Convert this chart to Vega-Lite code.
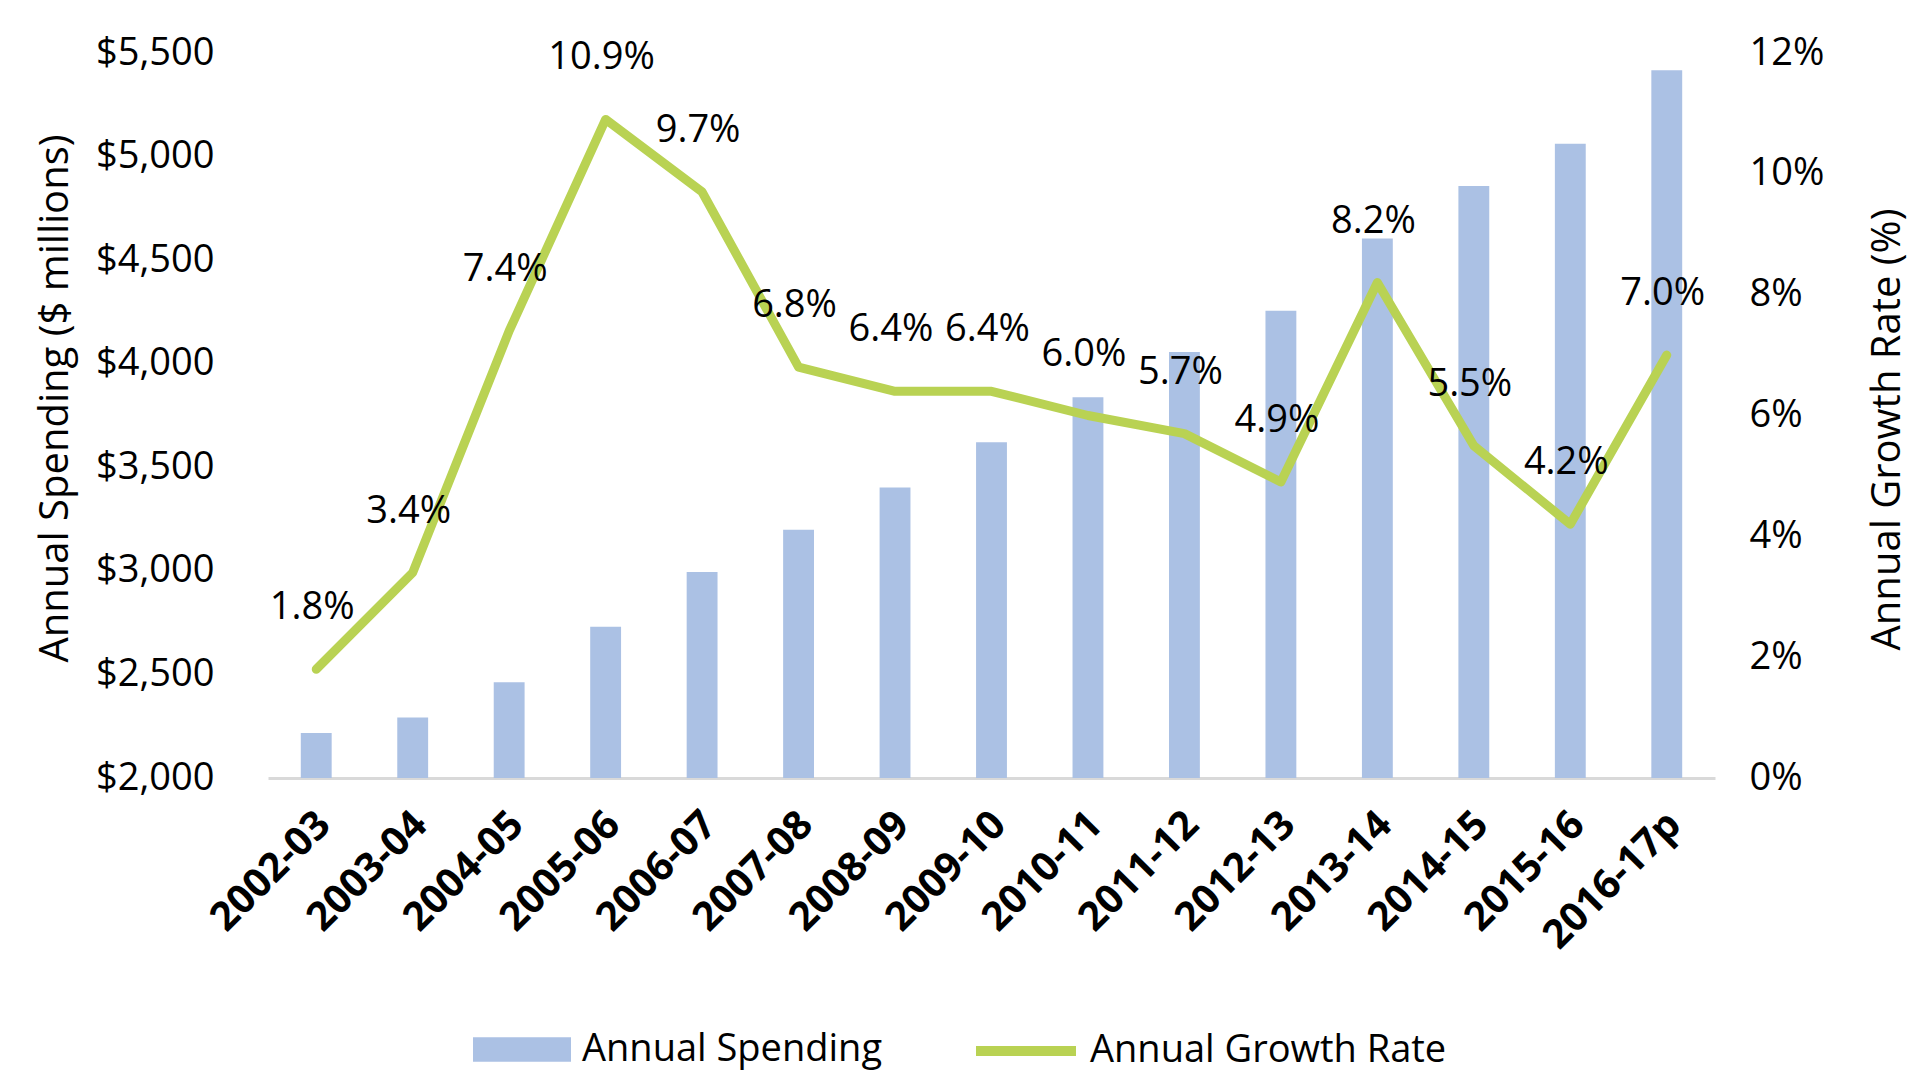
{
  "$schema": "https://vega.github.io/schema/vega-lite/v6.json",
  "autosize": "none",
  "width": 1447,
  "height": 725,
  "padding": {"left": 268, "top": 53, "right": 217, "bottom": 306},
  "background": "white",
  "config": {
    "view": {"stroke": null},
    "font": "Open Sans",
    "axis": {"grid": false, "labelColor": "black", "titleColor": "black", "titleFontWeight": "normal"},
    "legend": {"labelColor": "black", "labelFontSize": 38, "labelLimit": 0, "padding": 0}
  },
  "data": {
    "values": [
      {"year": "2002-03", "spending": 2217, "growth": 0.018},
      {"year": "2003-04", "spending": 2292, "growth": 0.034},
      {"year": "2004-05", "spending": 2462, "growth": 0.074},
      {"year": "2005-06", "spending": 2730, "growth": 0.109},
      {"year": "2006-07", "spending": 2995, "growth": 0.097},
      {"year": "2007-08", "spending": 3199, "growth": 0.068},
      {"year": "2008-09", "spending": 3403, "growth": 0.064},
      {"year": "2009-10", "spending": 3621, "growth": 0.064},
      {"year": "2010-11", "spending": 3838, "growth": 0.060},
      {"year": "2011-12", "spending": 4057, "growth": 0.057},
      {"year": "2012-13", "spending": 4256, "growth": 0.049},
      {"year": "2013-14", "spending": 4605, "growth": 0.082},
      {"year": "2014-15", "spending": 4858, "growth": 0.055},
      {"year": "2015-16", "spending": 5062, "growth": 0.042},
      {"year": "2016-17p", "spending": 5417, "growth": 0.070}
    ]
  },
  "encoding": {
    "x": {
      "field": "year",
      "type": "ordinal",
      "sort": null,
      "scale": {"paddingInner": 0.68, "paddingOuter": 0.34},
      "axis": {
        "title": null,
        "labelAngle": -45,
        "labelAlign": "right",
        "labelBaseline": "middle",
        "labelFontSize": 40,
        "labelFontWeight": "bold",
        "labelPadding": 40,
        "labelOffset": 8,
        "ticks": false,
        "tickSize": 0,
        "domainColor": "#D9D9D9",
        "domainWidth": 3
      }
    }
  },
  "layer": [
    {
      "mark": {"type": "bar"},
      "encoding": {
        "y": {
          "field": "spending",
          "type": "quantitative",
          "scale": {"domain": [2000, 5500], "zero": false, "nice": false},
          "axis": {
            "orient": "left",
            "values": [2000, 2500, 3000, 3500, 4000, 4500, 5000, 5500],
            "format": "$,d",
            "domain": false,
            "ticks": false,
            "tickSize": 0,
            "labelFontSize": 38,
            "labelPadding": 54,
            "title": "Annual Spending ($ millions)",
            "titleFontSize": 40,
            "titleAngle": 270,
            "titleAlign": "center",
            "titleBaseline": "middle",
            "titleX": -213,
            "titleY": 345
          }
        },
        "y2": {"datum": 2000},
        "fill": {
          "datum": "Annual Spending",
          "scale": {"range": ["#ABC1E4"]},
          "legend": {
            "title": null,
            "orient": "none",
            "legendX": 205,
            "legendY": 972,
            "symbolType": "M-1,-0.5H3V0.5H-1Z",
            "symbolSize": 2401,
            "symbolStrokeWidth": 0,
            "symbolOpacity": 1,
            "labelOffset": 60
          }
        }
      }
    },
    {
      "mark": {"type": "line", "strokeWidth": 9, "strokeCap": "round", "strokeJoin": "round"},
      "encoding": {
        "y": {
          "field": "growth",
          "type": "quantitative",
          "scale": {"domain": [0, 0.12], "nice": false},
          "axis": {
            "orient": "right",
            "values": [0, 0.02, 0.04, 0.06, 0.08, 0.1, 0.12],
            "format": ".0%",
            "domain": false,
            "ticks": false,
            "tickSize": 0,
            "labelFontSize": 38,
            "labelPadding": 34,
            "title": "Annual Growth Rate (%)",
            "titleFontSize": 40,
            "titleAngle": 270,
            "titleAlign": "center",
            "titleBaseline": "middle",
            "titleX": 172,
            "titleY": 376
          }
        },
        "stroke": {
          "datum": "Annual Growth Rate",
          "scale": {"range": ["#B9D253"]},
          "legend": {
            "title": null,
            "orient": "none",
            "legendX": 703,
            "legendY": 943,
            "symbolType": "stroke",
            "symbolSize": 10000,
            "symbolStrokeWidth": 10,
            "labelOffset": 9
          }
        }
      }
    },
    {
      "mark": {"type": "text", "fontSize": 38, "color": "black", "dy": -61, "dx": -4, "baseline": "middle"},
      "encoding": {
        "y": {
          "field": "growth",
          "type": "quantitative",
          "scale": {"domain": [0, 0.12], "nice": false},
          "axis": null
        },
        "text": {"field": "growth", "type": "quantitative", "format": ".1%"}
      }
    }
  ],
  "resolve": {"scale": {"y": "independent"}}
}
